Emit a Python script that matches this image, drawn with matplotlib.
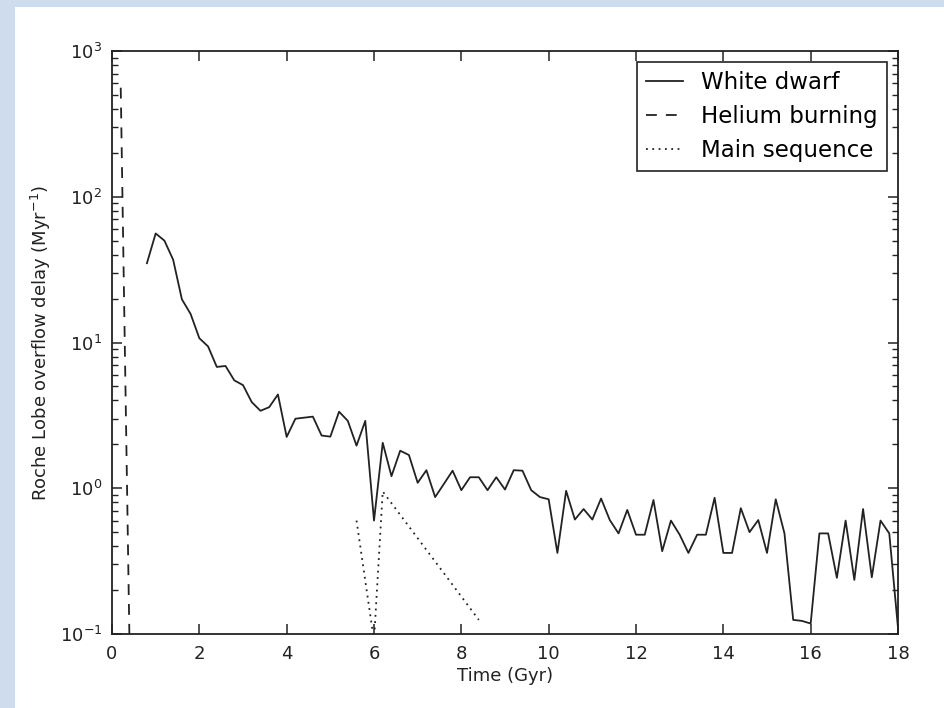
import matplotlib
matplotlib.use("Agg")
import matplotlib.pyplot as plt
from matplotlib.patches import Rectangle

# white dwarf channel, sampled every 0.2 Gyr
wd_time = [0.8, 1.0, 1.2, 1.4, 1.6, 1.8, 2.0, 2.2, 2.4, 2.6, 2.8, 3.0, 3.2, 3.4,
           3.6, 3.8, 4.0, 4.2, 4.4, 4.6, 4.8, 5.0, 5.2, 5.4, 5.6, 5.8, 6.0, 6.2,
           6.4, 6.6, 6.8, 7.0, 7.2, 7.4, 7.6, 7.8, 8.0, 8.2, 8.4, 8.6, 8.8, 9.0,
           9.2, 9.4, 9.6, 9.8, 10.0, 10.2, 10.4, 10.6, 10.8, 11.0, 11.2, 11.4,
           11.6, 11.8, 12.0, 12.2, 12.4, 12.6, 12.8, 13.0, 13.2, 13.4, 13.6,
           13.8, 14.0, 14.2, 14.4, 14.6, 14.8, 15.0, 15.2, 15.4, 15.6, 15.8,
           16.0, 16.2, 16.4, 16.6, 16.8, 17.0, 17.2, 17.4, 17.6, 17.8, 18.0]
wd_rate = [35, 56, 50, 37, 19.8, 15.7, 10.7, 9.4, 6.8, 6.9, 5.5, 5.1, 3.9, 3.4,
           3.6, 4.4, 2.25, 3.0, 3.05, 3.1, 2.3, 2.26, 3.35, 2.9, 1.96, 2.9, 0.6,
           2.05, 1.21, 1.81, 1.69, 1.09, 1.33, 0.87, 1.07, 1.32, 0.97, 1.19,
           1.19, 0.97, 1.19, 0.98, 1.33, 1.32, 0.97, 0.87, 0.84, 0.36, 0.96,
           0.61, 0.72, 0.61, 0.85, 0.605, 0.49, 0.71, 0.48, 0.48, 0.83, 0.37,
           0.60, 0.48, 0.36, 0.48, 0.48, 0.86, 0.36, 0.36, 0.73, 0.50, 0.605,
           0.36, 0.84, 0.49, 0.125, 0.123, 0.118, 0.49, 0.49, 0.243, 0.60,
           0.235, 0.72, 0.245, 0.60, 0.49, 0.11]

# helium burning channel
he_time = [0.2, 0.4]
he_rate = [560, 0.09]

# main sequence channel
ms_time = [5.6, 6.0, 6.2, 8.4]
ms_rate = [0.6, 0.09, 0.95, 0.125]

plt.rcParams["font.family"] = ["DejaVu Sans"]
ink = "#222222"

fig = plt.figure(figsize=(9.45, 7.08), dpi=100, facecolor="#cfdcee")
# white page area, light blue strip on the left and top
fig.patches.append(Rectangle((15 / 945, 0), 1, 1 - 7 / 708, transform=fig.transFigure,
                             facecolor="white", edgecolor="none", zorder=-10))

ax = fig.add_axes([112 / 945, 1 - 634 / 708, (898 - 112) / 945, (634 - 51) / 708])
ax.set_zorder(5)

ax.plot(wd_time, wd_rate, color=ink, lw=1.3, ls="-", label="White dwarf")
ax.plot(he_time, he_rate, color=ink, lw=1.3, ls="--", dashes=(6, 5),
        label="Helium burning")
ax.plot(ms_time, ms_rate, color=ink, lw=1.3, ls=":", dashes=(1, 2.5),
        label="Main sequence")

ax.set_yscale("log")
ax.set_xlim(0, 18)
ax.set_ylim(0.1, 1000)
ax.set_xticks(range(0, 19, 2))

ax.tick_params(which="both", direction="in", top=True, right=True,
               labelsize=13, colors=ink)
ax.tick_params(which="major", length=7.5, width=1.1)
ax.tick_params(which="minor", length=4.5, width=1.0)
ax.tick_params(axis="x", pad=8)
ax.tick_params(axis="y", pad=7)
for s in ax.spines.values():
    s.set_linewidth(1.3)
    s.set_color(ink)

ax.set_xlabel("Time (Gyr)", fontsize=13, color=ink, labelpad=3)
ax.set_ylabel("Roche Lobe overflow delay (Myr$^{-1}$)", fontsize=13,
              color=ink, labelpad=5)

leg = ax.legend(loc="upper right", fontsize=16.5, fancybox=False, framealpha=1,
                edgecolor=ink, borderaxespad=0.48, handlelength=1.6,
                handletextpad=0.8, labelspacing=0.47, borderpad=0.4)
leg.get_frame().set_linewidth(1.2)

fig.savefig("out.png", dpi=100, facecolor=fig.get_facecolor())
